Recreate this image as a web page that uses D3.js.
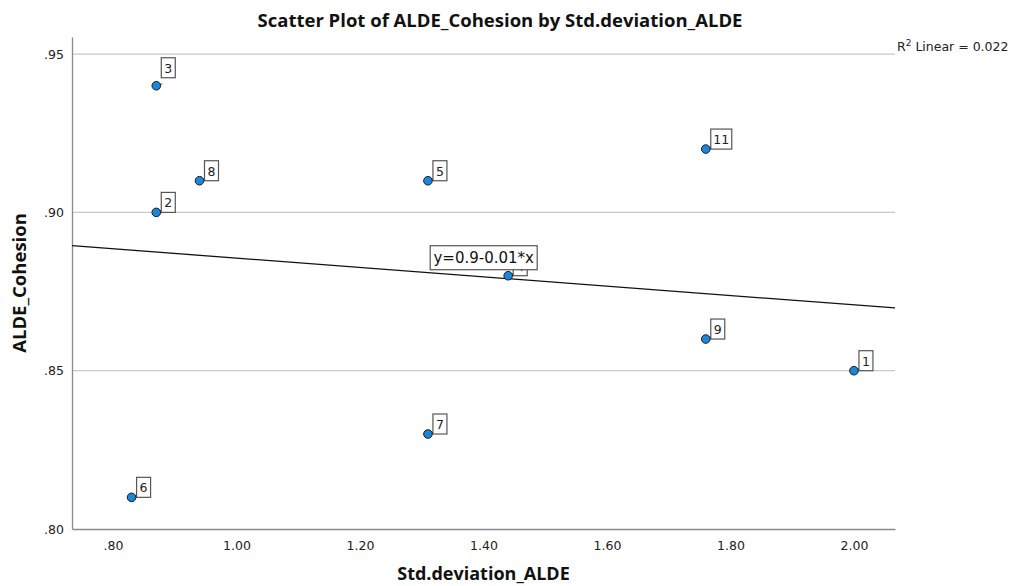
<!DOCTYPE html>
<html>
<head>
<meta charset="utf-8">
<script src="https://cdn.jsdelivr.net/npm/d3@7"></script>
<style>
  body { margin: 0; background: #fff; }
  svg { display: block; }
</style>
</head>
<body>
<svg id="chart"></svg>
<script>
// data (case number, x, y)
const caseIds = [1, 2, 3, 4, 5, 6, 7, 8, 9, 11];
const stdDev = [2.00, 0.87, 0.87, 1.44, 1.31, 0.83, 1.31, 0.94, 1.76, 1.76];
const cohesion = [0.85, 0.90, 0.94, 0.88, 0.91, 0.81, 0.83, 0.91, 0.86, 0.92];
const xTicks = [0.8, 1.0, 1.2, 1.4, 1.6, 1.8, 2.0];
const yTicks = [0.80, 0.85, 0.90, 0.95];
const r2Text = '0.022';
const fitLabel = 'y=0.9-0.01*x';

const width = 1014;
const height = 586;
const margin = { top: 37, right: 119, bottom: 57, left: 72 };

const svg = d3.select('#chart')
  .attr('width', width)
  .attr('height', height);

const xScale = d3.scaleLinear()
  .domain([0.7335, 2.0665])
  .range([margin.left, width - margin.right]);

const yScale = d3.scaleLinear()
  .domain([0.80, 0.9554])
  .range([height - margin.bottom, margin.top]);

const data = caseIds.map((id, i) => ({ id, x: stdDev[i], y: cohesion[i] }));

// gridlines
svg.append('g')
  .selectAll('line')
  .data(yTicks.slice(1))
  .enter()
  .append('line')
  .attr('x1', margin.left)
  .attr('x2', width - margin.right)
  .attr('y1', d => yScale(d))
  .attr('y2', d => yScale(d))
  .attr('stroke', '#c8c8c8')
  .attr('stroke-width', 1.2);

// axes
const xAxis = d3.axisBottom(xScale)
  .tickValues(xTicks)
  .tickSize(0)
  .tickPadding(12)
  .tickFormat(d => d < 1 ? d3.format('.2f')(d).replace(/^0/, '') : d3.format('.2f')(d));

const yAxis = d3.axisLeft(yScale)
  .tickValues(yTicks)
  .tickSize(0)
  .tickPadding(8)
  .tickFormat(d => d3.format('.2f')(d).replace(/^0/, ''));

const gx = svg.append('g')
  .attr('transform', `translate(0, ${height - margin.bottom})`)
  .call(xAxis);

const gy = svg.append('g')
  .attr('transform', `translate(${margin.left}, 0)`)
  .call(yAxis);

[gx, gy].forEach(g => {
  g.select('.domain').attr('stroke', '#8a8a8a').attr('stroke-width', 1.3);
  g.selectAll('text')
    .attr('font-family', 'DejaVu Sans, sans-serif')
    .attr('font-size', 12.5)
    .attr('fill', '#222');
});

// regression line
const mx = d3.mean(stdDev);
const my = d3.mean(cohesion);
const slope = d3.sum(data, d => (d.x - mx) * (d.y - my)) / d3.sum(data, d => (d.x - mx) ** 2);
const intercept = my - slope * mx;
const xd = xScale.domain();

svg.append('line')
  .attr('x1', xScale(xd[0]))
  .attr('x2', xScale(xd[1]))
  .attr('y1', yScale(intercept + slope * xd[0]))
  .attr('y2', yScale(intercept + slope * xd[1]))
  .attr('stroke', '#111')
  .attr('stroke-width', 1.3);

// points with case labels
const pts = svg.append('g')
  .selectAll('g')
  .data(data)
  .enter()
  .append('g')
  .attr('transform', d => `translate(${xScale(d.x)}, ${yScale(d.y)})`);

pts.append('line')
  .attr('x1', 0).attr('y1', 0)
  .attr('x2', 6).attr('y2', -2)
  .attr('stroke', '#444');

pts.append('rect')
  .attr('x', 5)
  .attr('y', d => d.id === 3 ? -28 : -20)
  .attr('width', d => d.id > 9 ? 21 : 14)
  .attr('height', 20)
  .attr('fill', '#fff')
  .attr('stroke', '#555')
  .attr('stroke-width', 1.2);

pts.append('text')
  .attr('x', d => 5 + (d.id > 9 ? 10.5 : 7))
  .attr('y', d => (d.id === 3 ? -28 : -20) + 15)
  .attr('text-anchor', 'middle')
  .attr('font-family', 'DejaVu Sans, sans-serif')
  .attr('font-size', 12.5)
  .attr('fill', '#222')
  .text(d => d.id);

pts.append('circle')
  .attr('r', 4.3)
  .attr('fill', '#1c86d9')
  .attr('stroke', '#1a1a1a')
  .attr('stroke-width', 1);

// fit equation label, near case 4
const p4 = data.find(d => d.id === 4);
const eq = svg.append('g')
  .attr('transform', `translate(${xScale(p4.x) + 29}, ${yScale(p4.y) - 6})`);
eq.append('rect')
  .attr('x', -107).attr('y', -24)
  .attr('width', 107).attr('height', 24)
  .attr('fill', '#fff')
  .attr('stroke', '#555')
  .attr('stroke-width', 1.2);
eq.append('text')
  .attr('x', -53.5).attr('y', -7)
  .attr('text-anchor', 'middle')
  .attr('font-family', 'DejaVu Sans, sans-serif')
  .attr('font-size', 15)
  .attr('fill', '#111')
  .text(fitLabel);

// R squared label
const r2 = svg.append('text')
  .attr('x', width - margin.right + 2)
  .attr('y', yScale(0.95) - 3)
  .attr('font-family', 'DejaVu Sans, sans-serif')
  .attr('font-size', 12.5)
  .attr('fill', '#222');
r2.append('tspan').text('R');
r2.append('tspan').attr('dy', -5).attr('font-size', 9).text('2');
r2.append('tspan').attr('dy', 5).text(' Linear = ' + r2Text);

// titles
svg.append('text')
  .attr('x', 500)
  .attr('y', 27)
  .attr('text-anchor', 'middle')
  .attr('font-family', 'Open Sans, sans-serif')
  .attr('font-weight', 'bold')
  .attr('font-size', 18.5)
  .attr('fill', '#111')
  .text('Scatter Plot of ALDE_Cohesion by Std.deviation_ALDE');

svg.append('text')
  .attr('x', (margin.left + width - margin.right) / 2)
  .attr('y', 580)
  .attr('text-anchor', 'middle')
  .attr('font-family', 'Open Sans, sans-serif')
  .attr('font-weight', 'bold')
  .attr('font-size', 18)
  .attr('fill', '#111')
  .text('Std.deviation_ALDE');

svg.append('text')
  .attr('transform', `translate(26, ${(margin.top + height - margin.bottom) / 2}) rotate(-90)`)
  .attr('text-anchor', 'middle')
  .attr('font-family', 'Open Sans, sans-serif')
  .attr('font-weight', 'bold')
  .attr('font-size', 18.5)
  .attr('fill', '#111')
  .text('ALDE_Cohesion');
</script>
</body>
</html>
